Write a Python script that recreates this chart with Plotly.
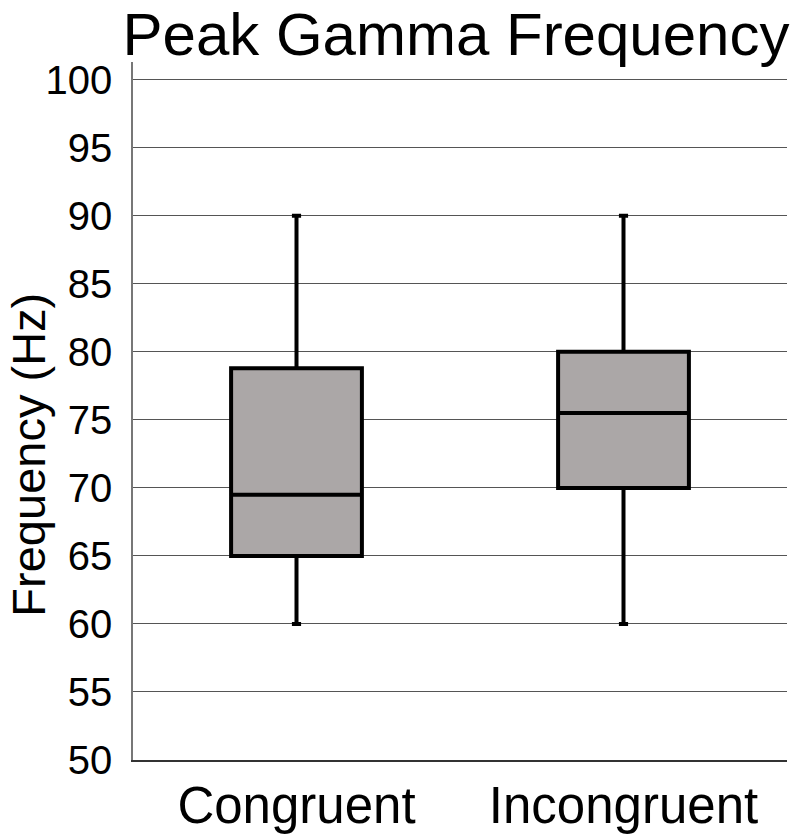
import plotly.graph_objects as go

# box statistics
categories = ["Congruent", "Incongruent"]
lower = [60, 60]
q1 = [65, 70]
median = [69.5, 75.5]
q3 = [78.8, 80]
upper = [90, 90]
y_ticks = list(range(50, 101, 5))

fig = go.Figure()
fig.add_trace(go.Box(
    x=categories,
    q1=q1,
    median=median,
    q3=q3,
    lowerfence=lower,
    upperfence=upper,
    width=0.4,
    fillcolor="#ABA7A7",
    line=dict(color="black", width=4),
    whiskerwidth=0.07,
    boxpoints=False,
    showlegend=False,
    hoverinfo="skip",
))

# y title placed by hand, it sits below the plot centre in the reference
fig.add_annotation(
    text="Frequency (Hz)",
    textangle=-90,
    xref="paper", yref="paper",
    x=-0.16, y=0.438,
    xanchor="center", yanchor="middle",
    showarrow=False,
    font=dict(size=47, color="black"),
)

fig.update_layout(
    width=792,
    height=826,
    margin=dict(l=125, r=13, t=54, b=74),
    plot_bgcolor="white",
    paper_bgcolor="white",
    font=dict(family="Liberation Sans, Arial, sans-serif", color="black"),
    title=dict(
        text="Peak Gamma Frequency",
        font=dict(size=60, color="black"),
        x=448 / 792,
        xanchor="center",
        yref="container",
        y=1 - 26 / 826,
        yanchor="middle",
    ),
    xaxis=dict(
        showgrid=False,
        showline=True,
        linecolor="#333333",
        linewidth=1.5,
        ticks="",
        tickfont=dict(size=51),
        ticklabelstandoff=0,
        automargin=False,
        range=[-0.5, 1.5],
    ),
    yaxis=dict(
        range=[50, 101.3],
        tickvals=y_ticks,
        showgrid=True,
        gridcolor="#555555",
        gridwidth=1,
        zeroline=False,
        showline=True,
        linecolor="#777777",
        linewidth=1.5,
        ticks="",
        tickfont=dict(size=40),
        ticklabelstandoff=11,
        automargin=False,
    ),
)

fig.write_html("out.html")
